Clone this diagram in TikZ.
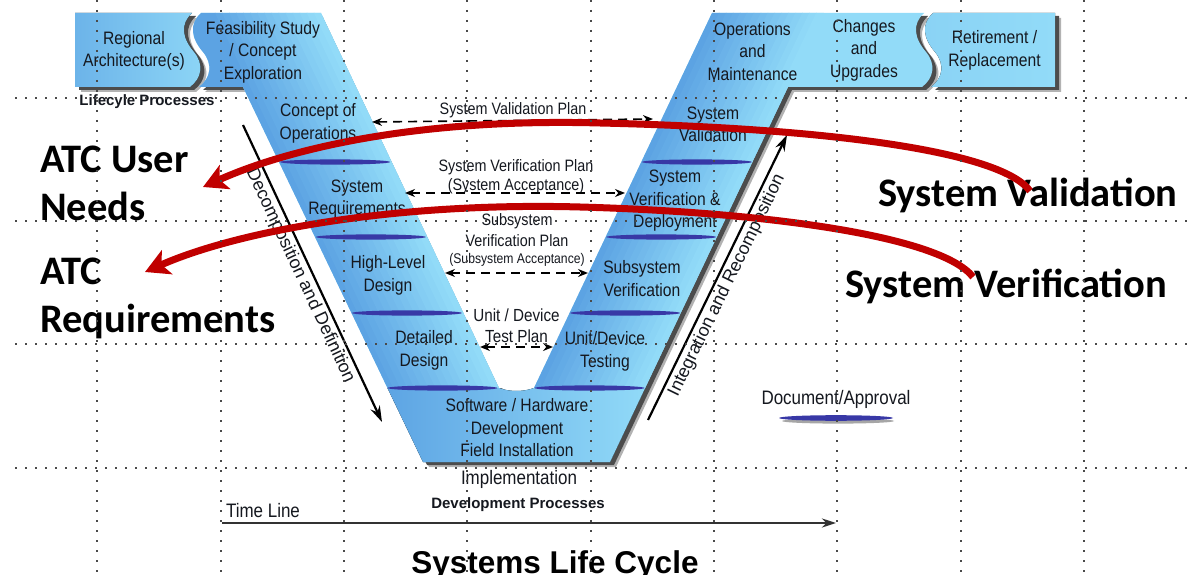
\documentclass[tikz,border=0pt]{standalone}
\usepackage{fontspec}
\usetikzlibrary{arrows.meta}
\newfontfamily\vf[FakeStretch=0.87]{Liberation Sans}
\newfontfamily\lsans{Liberation Sans}
\newfontfamily\carl{Carlito}
\definecolor{armdark}{HTML}{5CA3E3}
\definecolor{armlight}{HTML}{92DBF8}
\definecolor{docblue}{HTML}{3838A6}
\definecolor{arcred}{HTML}{C00000}
\definecolor{gridc}{HTML}{4A4A4A}
\definecolor{txt}{HTML}{15181F}
\def\unionpath{(201,13) -- (321,13) -- (499,388) .. controls (510,392) and (523,392) .. (534,388) -- (712,13) -- (924,13) .. controls (912,24) and (914,38) .. (926,52) .. controls (936,64) and (934,78) .. (922,87) -- (788,87) -- (610,462) -- (423,462) -- (243,87) -- (199,87) .. controls (211,78) and (213,64) .. (203,52) .. controls (191,38) and (189,24) .. (201,13) -- cycle}
\def\regpath{(75,13) -- (192,13) .. controls (180,24) and (182,38) .. (194,52) .. controls (204,64) and (202,78) .. (190,87) -- (75,87) -- cycle}
\def\retpath{(933,13) -- (1055,13) -- (1055,87) -- (931,87) .. controls (943,78) and (945,64) .. (935,52) .. controls (923,38) and (921,24) .. (933,13) -- cycle}
\tikzset{
 vlabel/.style={font={\vf\fontsize{18bp}{22.5bp}\selectfont}, text=txt, align=center, inner sep=0pt},
 planlabel/.style={font={\vf\fontsize{16.5bp}{19bp}\selectfont}, text=txt, align=center, inner sep=0pt},
 outlabel/.style={font={\vf\fontsize{19.5bp}{22bp}\selectfont}, text=txt, inner sep=0pt},
 boldlabel/.style={font={\lsans\bfseries\fontsize{15bp}{18bp}\selectfont}, text=txt, inner sep=0pt},
 biglabel/.style={font={\carl\bfseries\fontsize{40.5bp}{46bp}\selectfont}, text=black, inner sep=0pt, anchor=base west},
 rotlabel/.style={font={\lsans\fontsize{18bp}{20bp}\selectfont}, text=txt, inner sep=2.5bp},
 planarrow/.style={black, line width=1.6bp, dash pattern=on 9bp off 6bp, {Stealth[length=10bp,width=8bp]}-{Stealth[length=10bp,width=8bp]}},
 diagarrow/.style={black, line width=2.2bp, -{Stealth[length=16bp,width=10bp]}},
 redarc/.style={arcred, line width=7bp, -{Stealth[length=24bp,width=26bp,inset=6bp]}},
 griddot/.style={gridc, line width=1.6bp, dash pattern=on 1.6bp off 8.4bp},
 docmark/.style={docblue},
}
\begin{document}
\begin{tikzpicture}[x=1bp,y=-1bp]
\useasboundingbox (0,0) rectangle (1190,575);
\fill[white] (0,0) rectangle (1190,575);
% shadows
\begin{scope}[shift={(6,5)}]
 \fill[black!30] \unionpath; \fill[black!30] \regpath; \fill[black!30] \retpath;
\end{scope}
\begin{scope}[shift={(4,3)}]
 \fill[black!70] \unionpath; \fill[black!70] \regpath; \fill[black!70] \retpath;
\end{scope}
\fill[white] (321,13) -- (499,388) -- (534,388) -- (712,13) -- cycle;
% boxes
\fill[left color=armdark!70!armlight, right color=armlight!90!armdark] \regpath;
\fill[left color=armlight!85!armdark, right color=armlight] \retpath;
% V shape
\begin{scope}
 \clip \unionpath;
 \fill[armlight] (180,0) rectangle (940,470);
 \foreach \i in {0,...,15} {
   \pgfmathsetmacro\a{(\i==0)*(-50)+(\i>0)*\i*113/16}
   \pgfmathsetmacro\b{(\i+1)*113/16+0.8}
   \pgfmathsetmacro\c{\i*111/16}
   \pgfmathsetmacro\d{(\i+1)*111/16+0.8}
   \pgfmathtruncatemacro\m{100*(1-\i/15)}
   \fill[armdark!\m!armlight] (207.85+\a,13) -- (207.85+\b,13) -- (386+\b,388) -- (386+\a,388) -- cycle;
   \fill[armdark!\m!armlight] (534+\c,388) -- (534+\d,388) -- (712+\d,13) -- (712+\c,13) -- cycle;
 }
 \fill[left color=armdark, right color=armlight] (380,388) rectangle (650,470);
\end{scope}
% document marks
\foreach \ex/\ey in {335.1/162, 370.8/237, 406.9/313, 442.5/388, 696.9/162, 661.2/237, 625.1/313, 589.5/388}
  \fill[docmark] (\ex,\ey) ellipse [x radius=55, y radius=2.6];
% texts in boxes
\node[vlabel] (reg) at (134,51) {Regional\\Architecture(s)};
\node[vlabel] (feas) at (263,52) {Feasibility Study\\/ Concept\\Exploration};
\node[vlabel] (conops) at (318,123.5) {Concept of\\Operations};
\node[vlabel] (sysreq) at (357,199) {System\\Requirements};
\node[vlabel] (hld) at (388,275.5) {High-Level\\Design};
\node[vlabel] (dd) at (424,350.5) {Detailed\\Design};
\node[vlabel] (sw) at (517,428) {Software / Hardware\\Development\\Field Installation};
\node[vlabel] (sysval) at (713,124.5) {System\\Validation};
\node[vlabel] (sysver) at (675,201) {System\\Verification \&\\Deployment};
\node[vlabel] (subver) at (642,278.5) {Subsystem\\Verification};
\node[vlabel] (unit) at (605,351.5) {Unit/Device\\Testing};
\node[vlabel] (ops) at (752.5,51.5) {Operations\\and\\Maintenance};
\node[vlabel] (chg) at (864,50) {Changes\\and\\Upgrades};
\node[vlabel] (ret) at (994.5,50.5) {Retirement /\\Replacement};
\node[boldlabel] (lcp) at (147,102) {Lifecyle Processes};
\node[outlabel] (impl) at (519,479) {Implementation};
\node[boldlabel] (devp) at (518,505) {Development Processes};
% plan labels
\node[planlabel] (vpl) at (513,110) {System Validation Plan};
\node[planlabel] (spl) at (516,176.5) {System Verification Plan\\(System Acceptance)};
\node[planlabel] (sspa) at (517,221) {Subsystem};
\node[planlabel] (sspb) at (517,241) {Verification Plan};
\node[planlabel, font={\vf\fontsize{14bp}{16bp}\selectfont}] (sspc) at (517,260) {(Subsystem Acceptance)};
\node[planlabel, font={\vf\fontsize{17.5bp}{21bp}\selectfont}] (upl) at (516.5,325.5) {Unit / Device\\Test Plan};
% plan arrows
\coordinate (vpL) at (372,122); \coordinate (vpR) at (653,119);
\coordinate (spL) at (405,193); \coordinate (spR) at (625,193);
\coordinate (ssL) at (445,273); \coordinate (ssR) at (588,273);
\coordinate (upL) at (480,347); \coordinate (upR) at (553,347);
\draw[planarrow] (vpL) -- (vpR);
\draw[planarrow] (spL) -- (spR);
\draw[planarrow] (ssL) -- (ssR);
\draw[planarrow] (upL) -- (upR);
% diagonal arrows
\coordinate (decA) at (243,125); \coordinate (decB) at (382,422);
\coordinate (intA) at (648,420); \coordinate (intB) at (787,135);
\draw[diagarrow] (decA) -- (decB) node[rotlabel, pos=0.49, sloped, below] (dectext) {Decomposition and Definition};
\draw[diagarrow] (intA) -- (intB) node[rotlabel, pos=0.49, sloped, below] (inttext) {Integration and Recomposition};
% time line
\node[outlabel] (tl) at (263,511) {Time Line};
\coordinate (tlA) at (222,523); \coordinate (tlB) at (836,523);
\draw[black!80, line width=2.6bp, -{Stealth[length=14bp,width=9bp]}] (tlA) -- (tlB);
% document approval
\node[outlabel] (docap) at (836,399) {Document/Approval};
\fill[black!35] (838,421) ellipse [x radius=56, y radius=2.6];
\fill[docmark] (836,418) ellipse [x radius=57, y radius=2.8];
% big labels
\node[biglabel] (atc1) at (40,173) {ATC User};
\node[biglabel] (atc2) at (40,221) {Needs};
\node[biglabel] (atc3) at (40,285) {ATC};
\node[biglabel] (atc4) at (40,333) {Requirements};
\node[biglabel] (svl) at (878,207) {System Validation};
\node[biglabel] (svf) at (845,298) {System Verification};
\node[font={\lsans\bfseries\fontsize{31.5bp}{36bp}\selectfont}, text=black, inner sep=0pt, anchor=base] (slc) at (555,573) {Systems Life Cycle};
% red arcs
\coordinate (r1s) at (1030,191); \coordinate (r1m) at (600,123); \coordinate (r1e) at (203,187);
\coordinate (r2s) at (973,277); \coordinate (r2m) at (580,207); \coordinate (r2e) at (145,272);
\draw[redarc] (r1s) .. controls (1000,150) and (820,128) .. (r1m) .. controls (420,118) and (290,148) .. (r1e);
\draw[redarc] (r2s) .. controls (940,235) and (760,212) .. (r2m) .. controls (400,202) and (240,230) .. (r2e);
% grid
\foreach \gx in {97,221,344,467,591,714,837,961,1084} \draw[griddot] (\gx,0) -- (\gx,575);
\foreach \gy in {98,221,344,468} \draw[griddot] (15,\gy) -- (1190,\gy);
\end{tikzpicture}
\end{document}
